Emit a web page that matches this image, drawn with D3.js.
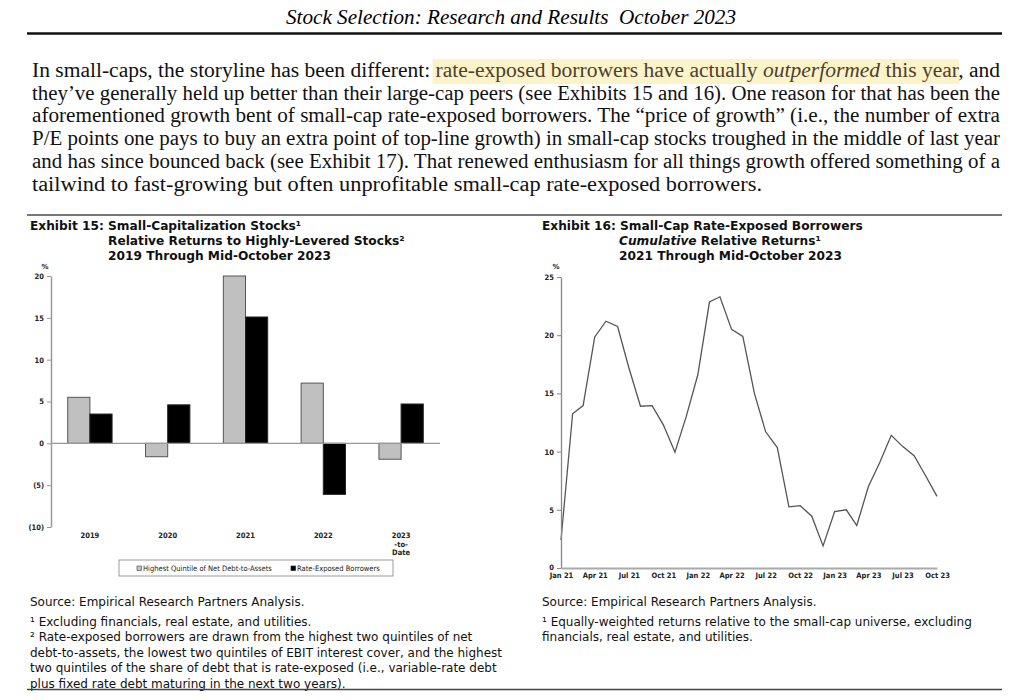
<!DOCTYPE html>
<html>
<head>
<meta charset="utf-8">
<script src="https://cdn.jsdelivr.net/npm/d3@7"></script>
<style>
  body { margin: 0; background: #fff; }
  .sans { font-family: "DejaVu Sans", sans-serif; }
  .serif { font-family: "Liberation Serif", serif; }
  .axis text { font-family: "DejaVu Sans", sans-serif; font-stretch: condensed; font-size: 7.5px; font-weight: bold; fill: #222; }
</style>
</head>
<body>
<div id="page"></div>
<script>
// ---- data ----
const pageTitle = "Stock Selection: Research and Results  October 2023";

const paraLines = [
  "In small-caps, the storyline has been different: rate-exposed borrowers have actually outperformed this year, and",
  "they\u2019ve generally held up better than their large-cap peers (see Exhibits 15 and 16).  One reason for that has been the",
  "aforementioned growth bent of small-cap rate-exposed borrowers.  The \u201Cprice of growth\u201D (i.e., the number of extra",
  "P/E points one pays to buy an extra point of top-line growth) in small-cap stocks troughed in the middle of last year",
  "and has since bounced back (see Exhibit 17).  That renewed enthusiasm for all things growth offered something of a",
  "tailwind to fast-growing but often unprofitable small-cap rate-exposed borrowers."
];

const categories15 = ["2019", "2020", "2021", "2022", "2023"];
const catLabels15 = [["2019"], ["2020"], ["2021"], ["2022"], ["2023", "-to-", "Date"]];
const seriesNames15 = ["Highest Quintile of Net Debt-to-Assets", "Rate-Exposed Borrowers"];
const highestQuintile = [5.5, -1.6, 20.0, 7.2, -1.9];
const rateExposed = [3.5, 4.6, 15.1, -6.1, 4.7];
const yTicks15 = [20, 15, 10, 5, 0, -5, -10];

const months16 = ["2021-01","2021-02","2021-03","2021-04","2021-05","2021-06","2021-07","2021-08","2021-09","2021-10","2021-11","2021-12",
  "2022-01","2022-02","2022-03","2022-04","2022-05","2022-06","2022-07","2022-08","2022-09","2022-10","2022-11","2022-12",
  "2023-01","2023-02","2023-03","2023-04","2023-05","2023-06","2023-07","2023-08","2023-09","2023-10"];
const cumulative16 = [2.4, 13.25, 13.95, 19.85, 21.2, 20.75, 17.2, 13.9, 13.95, 12.3, 9.95, 13.0,
  16.6, 22.85, 23.3, 20.5, 19.9, 15.0, 11.7, 10.35, 5.25, 5.35, 4.45, 1.9,
  4.85, 5.0, 3.65, 7.0, 9.05, 11.4, 10.45, 9.65, 7.9, 6.15];
const xTicks16 = ["2021-01","2021-04","2021-07","2021-10","2022-01","2022-04","2022-07","2022-10","2023-01","2023-04","2023-07","2023-10"];
const yTicks16 = [0, 5, 10, 15, 20, 25];

const title15 = ["Exhibit 15: Small-Capitalization Stocks\u00B9", "Relative Returns to Highly-Levered Stocks\u00B2", "2019 Through Mid-October 2023"];
const title16 = ["Exhibit 16: Small-Cap Rate-Exposed Borrowers", "Relative Returns\u00B9", "2021 Through Mid-October 2023"];
const notes15 = [
  "\u00B9 Excluding financials, real estate, and utilities.",
  "\u00B2 Rate-exposed borrowers are drawn from the highest two quintiles of net",
  "debt-to-assets, the lowest two quintiles of EBIT interest cover, and the highest",
  "two quintiles of the share of debt that is rate-exposed (i.e., variable-rate debt",
  "plus fixed rate debt maturing in the next two years)."
];
const notes16 = [
  "\u00B9 Equally-weighted returns relative to the small-cap universe, excluding",
  "financials, real estate, and utilities."
];
const sourceText = "Source: Empirical Research Partners Analysis.";

// ---- page ----
const W = 1029, H = 700;
const svg = d3.select("#page").append("svg")
    .attr("width", W)
    .attr("height", H);

// header
svg.append("text")
    .attr("class", "serif")
    .attr("x", 511).attr("y", 24)
    .attr("text-anchor", "middle")
    .style("white-space", "pre")
    .style("font-style", "italic")
    .style("font-size", "20px")
    .attr("textLength", 450)
    .attr("lengthAdjust", "spacingAndGlyphs")
    .text(pageTitle);

svg.append("line")
    .attr("x1", 27).attr("x2", 1002)
    .attr("y1", 33.5).attr("y2", 33.5)
    .attr("stroke", "#111").attr("stroke-width", 2.5);

// paragraph
const hlGroup = svg.append("g");
const para = svg.append("g").attr("class", "serif").style("font-size", "20px").style("white-space", "pre");
const paraBase = 77, paraStep = 22.7;
const hlStart = paraLines[0].indexOf("rate-exposed");
const hlEnd = paraLines[0].indexOf(", and") - 1;

paraLines.forEach((line, i) => {
  const t = para.append("text")
      .attr("x", 32)
      .attr("y", paraBase + i * paraStep)
      .attr("fill", "#111")
      .attr("textLength", i < paraLines.length - 1 ? 968 : 730)
      .attr("lengthAdjust", "spacingAndGlyphs");
  if (i === 0) {
    const o = line.indexOf("outperformed");
    t.append("tspan").text(line.slice(0, hlStart));
    t.append("tspan").attr("fill", "#4d4030").text(line.slice(hlStart, o));
    t.append("tspan").attr("fill", "#4d4030").style("font-style", "italic").text("outperformed");
    t.append("tspan").attr("fill", "#4d4030").text(line.slice(o + 12, hlEnd + 1));
    t.append("tspan").text(line.slice(hlEnd + 1));
    const a = t.node().getExtentOfChar(hlStart);
    const b = t.node().getExtentOfChar(hlEnd);
    hlGroup.append("rect")
        .attr("x", a.x - 3).attr("y", 59)
        .attr("width", b.x + b.width - a.x + 4).attr("height", 25)
        .attr("fill", "#fdf3c9");
  } else {
    t.text(line);
  }
});

// separator above exhibits
svg.append("line")
    .attr("x1", 27).attr("x2", 1002)
    .attr("y1", 215).attr("y2", 215)
    .attr("stroke", "#777").attr("stroke-width", 2);

function exhibitTitle(x, x2, lines, italicFirst) {
  const g = svg.append("g").attr("class", "sans")
      .style("font-size", "12.2px").style("font-weight", "bold").attr("fill", "#111");
  lines.forEach((s, i) => {
    const t = g.append("text").attr("x", i === 0 ? x : x2).attr("y", 229.5 + i * 15);
    if (i === 1 && italicFirst) {
      t.append("tspan").style("font-style", "italic").text(italicFirst + " ");
    }
    t.append("tspan").text(s);
  });
}
exhibitTitle(30, 108, title15, null);
exhibitTitle(542, 619, title16, "Cumulative");

// ---- Exhibit 15: grouped bars ----
const y15 = d3.scaleLinear().domain([-10, 20]).range([527, 276]);
const x15 = d3.scaleBand().domain(categories15).range([51, 440]).paddingInner(0.43).paddingOuter(0.215);
const x15inner = d3.scaleBand().domain([0, 1]).range([0, x15.bandwidth()]);
const barData = categories15.map((c, i) => ({ cat: c, vals: [highestQuintile[i], rateExposed[i]] }));
const barFill = ["#c0c0c0", "#000"];
const barStroke = ["#555", "#222"];

const g15 = svg.append("g");
g15.selectAll("g.grp")
    .data(barData)
    .enter().append("g")
    .attr("class", "grp")
    .attr("transform", d => "translate(" + x15(d.cat) + ",0)")
    .selectAll("rect")
    .data(d => d.vals.map((v, k) => ({ v: v, k: k })))
    .enter().append("rect")
    .attr("x", d => x15inner(d.k))
    .attr("width", x15inner.bandwidth())
    .attr("y", d => y15(Math.max(0, d.v)))
    .attr("height", d => Math.abs(y15(d.v) - y15(0)))
    .attr("fill", d => barFill[d.k])
    .attr("stroke", d => barStroke[d.k])
    .attr("stroke-width", 1);

// zero line
g15.append("line")
    .attr("x1", 51).attr("x2", 440)
    .attr("y1", y15(0)).attr("y2", y15(0))
    .attr("stroke", "#999").attr("stroke-width", 1.3);

const yAxis15 = g15.append("g")
    .attr("class", "axis")
    .attr("transform", "translate(51,0)")
    .call(d3.axisLeft(y15).tickValues(yTicks15).tickSize(4).tickSizeOuter(0).tickPadding(3)
      .tickFormat(d => d < 0 ? "(" + (-d) + ")" : d));
yAxis15.select(".domain").attr("stroke", "#999").attr("stroke-width", 1.5);
yAxis15.selectAll(".tick line").attr("stroke", "#999");

g15.append("text").attr("class", "sans")
    .attr("x", 45).attr("y", 269)
    .attr("text-anchor", "middle")
    .style("font-size", "7px").style("font-weight", "bold").attr("fill", "#222")
    .text("%");

// category labels
const catG = g15.append("g").attr("class", "axis");
categories15.forEach((c, i) => {
  catLabels15[i].forEach((s, j) => {
    catG.append("text")
        .attr("x", x15(c) + x15.bandwidth() / 2)
        .attr("y", 538 + j * 8.5)
        .attr("text-anchor", "middle")
        .text(s);
  });
});

// legend
const leg = g15.append("g");
leg.append("rect")
    .attr("x", 119).attr("y", 560).attr("width", 274).attr("height", 16)
    .attr("fill", "none").attr("stroke", "#999").attr("stroke-width", 1);
const legX = [137, 291];
seriesNames15.forEach((s, k) => {
  leg.append("rect")
      .attr("x", legX[k]).attr("y", 566).attr("width", 4.5).attr("height", 4.5)
      .attr("fill", barFill[k]).attr("stroke", barStroke[k]).attr("stroke-width", 0.7);
  leg.append("text").attr("class", "sans")
      .attr("x", legX[k] + 6).attr("y", 570.8)
      .style("font-size", "7.5px").style("font-stretch", "condensed").attr("fill", "#222")
      .text(s);
});

// ---- Exhibit 16: line ----
const parseM = d3.timeParse("%Y-%m");
const lineData = months16.map((m, i) => ({ date: parseM(m), v: cumulative16[i] }));
const x16 = d3.scaleTime().domain(d3.extent(lineData, d => d.date)).range([561, 937]);
const y16 = d3.scaleLinear().domain([0, 25]).range([568, 277]);

const g16 = svg.append("g");
g16.append("path")
    .datum(lineData)
    .attr("fill", "none")
    .attr("stroke", "#555")
    .attr("stroke-width", 1.3)
    .attr("d", d3.line().x(d => x16(d.date)).y(d => y16(d.v)));

const yAxis16 = g16.append("g")
    .attr("class", "axis")
    .attr("transform", "translate(561,0)")
    .call(d3.axisLeft(y16).tickValues(yTicks16).tickSize(4).tickSizeOuter(0).tickPadding(3));
yAxis16.select(".domain").attr("stroke", "#888").attr("stroke-width", 1.3);
yAxis16.selectAll(".tick line").attr("stroke", "#888");
yAxis16.selectAll(".tick text").attr("dy", d => d === 0 ? "0.15em" : "0.32em");

const xAxis16 = g16.append("g")
    .attr("class", "axis")
    .attr("transform", "translate(0,568)")
    .call(d3.axisBottom(x16).tickValues(xTicks16.map(parseM)).tickSize(0).tickSizeOuter(0).tickPadding(5)
      .tickFormat(d3.timeFormat("%b %y")));
xAxis16.select(".domain").attr("stroke", "#aaa").attr("stroke-width", 2);

g16.append("text").attr("class", "sans")
    .attr("x", 556).attr("y", 269)
    .attr("text-anchor", "middle")
    .style("font-size", "7px").style("font-weight", "bold").attr("fill", "#222")
    .text("%");

// ---- footnotes ----
function notes(x, list) {
  const g = svg.append("g").attr("class", "sans").style("font-size", "12px").attr("fill", "#111");
  g.append("text").attr("x", x).attr("y", 606).text(sourceText);
  list.forEach((s, i) => {
    g.append("text").attr("x", x).attr("y", 626 + i * 15.4).text(s);
  });
}
notes(30, notes15);
notes(542, notes16);

svg.append("line")
    .attr("x1", 27).attr("x2", 1002)
    .attr("y1", 689.5).attr("y2", 689.5)
    .attr("stroke", "#444").attr("stroke-width", 1.3);
</script>
</body>
</html>
